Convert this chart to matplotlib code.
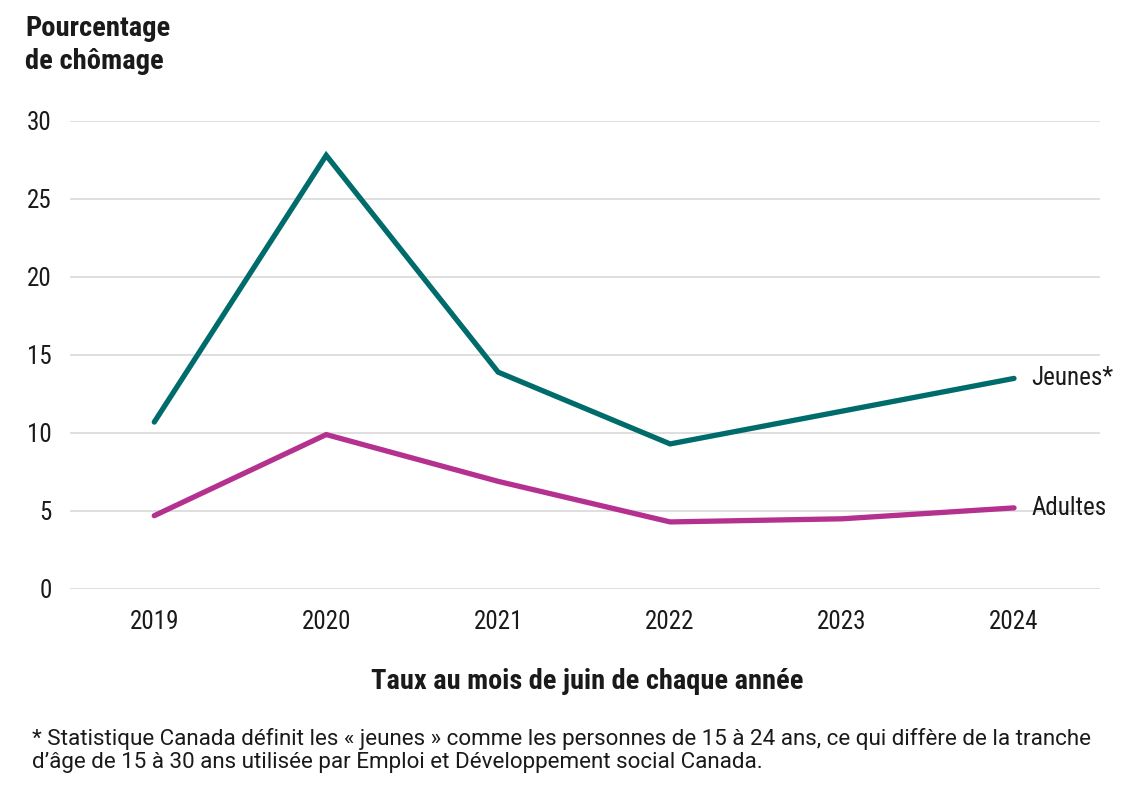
import numpy as np
import matplotlib.pyplot as plt

plt.rcParams['font.family'] = ['Roboto Condensed', 'Roboto', 'DejaVu Sans']

years = [2019, 2020, 2021, 2022, 2023, 2024]
jeunes = [10.7, 27.8, 13.9, 9.3, 11.4, 13.5]
adultes = [4.7, 9.9, 6.9, 4.3, 4.5, 5.2]
yticks = [0, 5, 10, 15, 20, 25, 30]

teal = "#006b6b"
magenta = "#b5318f"
ink = "#1a1a1a"

W, H = 1140, 797
fig = plt.figure(figsize=(W / 100, H / 100), dpi=100)
ax = fig.add_axes([70/W, 1 - 589/H, 1030/W, 468/H])

x = np.arange(len(years))
ax.plot(x, jeunes, color=teal, linewidth=3.8, solid_capstyle="round",
        solid_joinstyle="miter", clip_on=False, zorder=3)
ax.plot(x, adultes, color=magenta, linewidth=3.8, solid_capstyle="round",
        solid_joinstyle="miter", clip_on=False, zorder=3)

ax.text(x[-1] + 0.1, jeunes[-1], "Jeunes*", fontsize=18, va="center",
        ha="left", color=ink)
ax.text(x[-1] + 0.1, adultes[-1], "Adultes", fontsize=18, va="center",
        ha="left", color=ink)

ax.set_xlim(-0.49, 5.5)
ax.set_ylim(0, 30)
ax.set_yticks(yticks)
ax.set_xticks(x)
ax.set_xticklabels([str(y) for y in years])
ax.grid(axis="y", color="#d9d9d9", linewidth=1.2)
ax.set_axisbelow(True)
for s in ax.spines.values():
    s.set_visible(False)
ax.tick_params(length=0, labelsize=18, colors=ink)
ax.tick_params(axis="y", pad=13)
ax.tick_params(axis="x", pad=15)

fig.text(25/W, 1 - 36/H, "Pourcentage", fontsize=20.5, fontweight="bold",
         va="baseline", ha="left", color=ink)
fig.text(25/W, 1 - 69/H, "de chômage", fontsize=20.5, fontweight="bold",
         va="baseline", ha="left", color=ink)
fig.text(587/W, 1 - 689/H, "Taux au mois de juin de chaque année",
         fontsize=20.4, fontweight="bold", ha="center", va="baseline",
         color=ink)
foot = ["* Statistique Canada définit les « jeunes » comme les personnes de 15 à 24 ans, ce qui diffère de la tranche",
        "d’âge de 15 à 30 ans utilisée par Emploi et Développement social Canada."]
for i, line in enumerate(foot):
    fig.text(32/W, 1 - (745 + 23 * i)/H, line, fontsize=16.1,
             family=['Roboto', 'DejaVu Sans'], ha="left", va="baseline",
             color=ink)

fig.savefig("out.png", dpi=100)
